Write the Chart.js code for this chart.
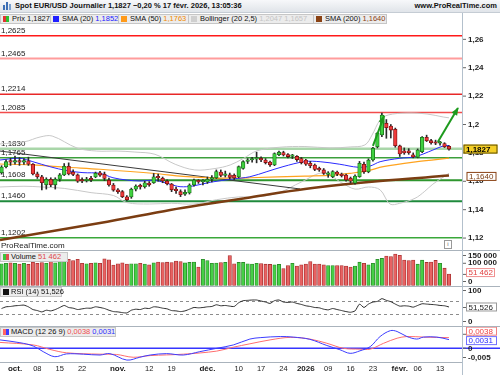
<!DOCTYPE html>
<html lang="fr">
<head>
<meta charset="utf-8">
<title>Spot EUR/USD Journalier</title>
<script src="https://cdn.jsdelivr.net/npm/chart.js@4.4.1/dist/chart.umd.min.js"></script>
<style>
  html, body { margin: 0; padding: 0; }
  body { position: relative; width: 500px; height: 375px; overflow: hidden; background: #fff;
         font-family: "Liberation Sans", Arial, sans-serif; color: #111; }
  canvas { position: absolute; left: 0; }
  #title { position: absolute; left: 0; top: 0; width: 500px; height: 13px; box-sizing: border-box;
           background: linear-gradient(#f7f8fa, #e0e4e9); border-bottom: 1px solid #c5ccd4;
           font-size: 7.5px; font-weight: bold; line-height: 12px; }
  #title .t { position: absolute; left: 15px; top: 0; }
  #title .site { position: absolute; right: 3px; top: 0; }
  #title .ico { position: absolute; bottom: 2px; width: 1.5px; background: #3d6fb5; }
  .lg { position: absolute; height: 10px; box-sizing: border-box; border: 1px solid #c6c6c6;
        background: #ececec; font-size: 7.5px; line-height: 8px; white-space: nowrap; padding-left: 11px; }
  .lg i { position: absolute; left: 2px; top: 1px; width: 6px; height: 6px; }
  .sep { position: absolute; left: 0; width: 500px; height: 1px; background: #aab3bc; }
  #axis { position: absolute; left: 462px; top: 13px; width: 1px; height: 362px; background: #b3c0cc; }
  #wm { position: absolute; left: 1px; top: 241px; font-size: 8px; color: #222; }
  #info { position: absolute; left: 444px; top: 240px; width: 6px; height: 7px; border: 1px solid #999;
          font-size: 6px; line-height: 7px; text-align: center; color: #666; background: #fff; }
</style>
</head>
<body>
<div id="title">
  <span class="ico" style="left:3px;height:5px"></span>
  <span class="ico" style="left:6px;height:8px"></span>
  <span class="ico" style="left:9px;height:6px;background:#7aa0d0"></span>
  <span class="t">Spot EUR/USD Journalier 1,1827 −0,20 % 17 févr. 2026, 13:05:36</span>
  <span class="site">www.ProRealTime.com</span>
</div>

<div class="lg" style="left:0;top:14px;width:51px"><i style="background:linear-gradient(90deg,#e23232 50%,#2fbf2f 50%)"></i>Prix <span id="vPrix"></span></div>
<div class="lg" style="left:50px;top:14px;width:69px"><i style="background:#1f1fff"></i>SMA (20) <span id="v20" style="color:#2020ff"></span></div>
<div class="lg" style="left:118px;top:14px;width:71px"><i style="background:#ff9a1a"></i>SMA (50) <span id="v50" style="color:#f08a00"></span></div>
<div class="lg" style="left:188px;top:14px;width:126px"><i style="background:#cfcfcf"></i>Bollinger (20 2,5) <span id="vBB" style="color:#c4c4c4"></span></div>
<div class="lg" style="left:313px;top:14px;width:74px"><i style="background:#8a4214"></i>SMA (200) <span id="v200" style="color:#8a4214"></span></div>

<canvas id="cPrice" width="500" height="225" style="top:25px"></canvas>
<canvas id="cVol" width="500" height="35" style="top:251px"></canvas>
<canvas id="cRsi" width="500" height="40" style="top:286px"></canvas>
<canvas id="cMacd" width="500" height="49" style="top:326px"></canvas>

<div class="sep" style="top:250px"></div>
<div class="sep" style="top:286px"></div>
<div class="sep" style="top:326px"></div>
<div class="sep" style="top:362px;width:463px"></div>
<div id="axis"></div>
<div id="wm">ProRealTime.com</div>
<div id="info">i</div>

<div class="lg" style="left:0;top:252px;width:68px;padding-left:10px"><i style="background:linear-gradient(90deg,#3ec43e 50%,#e05050 50%)"></i>Volume <span id="vVol" style="color:#e04848"></span></div>
<div class="lg" style="left:0;top:287px;width:62px;padding-left:10px"><i style="background:#111"></i>RSI (14) <span id="vRsi"></span></div>
<div class="lg" style="left:0;top:327px;width:116px;padding-left:10px"><i style="background:linear-gradient(90deg,#ff6464 50%,#3c3cff 50%)"></i>MACD (12 26 9) <span id="vSig" style="color:#f05050"></span> <span id="vMacd" style="color:#3030ff"></span></div>

<script>
// daily bars, Sep 26 2025 -> Feb 17 2026
const dates = [
  '2025-09-26','2025-09-29','2025-09-30',
  '2025-10-01','2025-10-02','2025-10-03','2025-10-06','2025-10-07','2025-10-08','2025-10-09','2025-10-10',
  '2025-10-13','2025-10-14','2025-10-15','2025-10-16','2025-10-17','2025-10-20','2025-10-21','2025-10-22',
  '2025-10-23','2025-10-24','2025-10-27','2025-10-28','2025-10-29','2025-10-30','2025-10-31',
  '2025-11-03','2025-11-04','2025-11-05','2025-11-06','2025-11-07','2025-11-10','2025-11-11','2025-11-12',
  '2025-11-13','2025-11-14','2025-11-17','2025-11-18','2025-11-19','2025-11-20','2025-11-21','2025-11-24',
  '2025-11-25','2025-11-26','2025-11-27','2025-11-28',
  '2025-12-01','2025-12-02','2025-12-03','2025-12-04','2025-12-05','2025-12-08','2025-12-09','2025-12-10',
  '2025-12-11','2025-12-12','2025-12-15','2025-12-16','2025-12-17','2025-12-18','2025-12-19','2025-12-22',
  '2025-12-23','2025-12-24','2025-12-26','2025-12-29','2025-12-30','2025-12-31',
  '2026-01-02','2026-01-05','2026-01-06','2026-01-07','2026-01-08','2026-01-09','2026-01-12','2026-01-13',
  '2026-01-14','2026-01-15','2026-01-16','2026-01-19','2026-01-20','2026-01-21','2026-01-22','2026-01-23',
  '2026-01-26','2026-01-27','2026-01-28','2026-01-29','2026-01-30',
  '2026-02-02','2026-02-03','2026-02-04','2026-02-05','2026-02-06','2026-02-09','2026-02-10','2026-02-11',
  '2026-02-12','2026-02-13','2026-02-16','2026-02-17'
];

const opens = [
  1.1660,1.1703,1.1738,1.1735,1.1742,1.1735,1.1745,1.1720,1.1652,1.1632,
  1.1575,1.1614,1.1575,1.1615,1.1645,1.1705,1.1665,1.1645,1.1612,1.1605,
  1.1612,1.1630,1.1660,1.1650,1.1608,1.1574,1.1540,1.1527,1.1491,1.1490,
  1.1544,1.1565,1.1562,1.1588,1.1590,1.1628,1.1621,1.1602,1.1580,1.1538,
  1.1527,1.1510,1.1518,1.1574,1.1605,1.1596,1.1595,1.1615,1.1625,1.1665,
  1.1642,1.1646,1.1642,1.1630,1.1690,1.1740,1.1750,1.1756,1.1762,1.1750,
  1.1735,1.1715,1.1788,1.1802,1.1788,1.1775,1.1775,1.1760,1.1749,1.1727,
  1.1715,1.1690,1.1680,1.1648,1.1632,1.1665,1.1650,1.1644,1.1622,1.1586,
  1.1632,1.1720,1.1668,1.1750,1.1844,1.1926,1.2008,1.1989,1.1966,1.1849,
  1.1815,1.1815,1.1787,1.1769,1.1808,1.1910,1.1886,1.1872,1.1868,1.1866,
  1.1846
];
const highs = [
  1.1710,1.1752,1.1762,1.1778,1.1768,1.1760,1.1770,1.1725,1.1665,1.1642,
  1.1625,1.1625,1.1625,1.1655,1.1725,1.1730,1.1680,1.1652,1.1625,1.1628,
  1.1635,1.1665,1.1670,1.1665,1.1622,1.1585,1.1548,1.1535,1.1500,1.1552,
  1.1575,1.1580,1.1600,1.1598,1.1655,1.1650,1.1630,1.1610,1.1585,1.1560,
  1.1540,1.1540,1.1582,1.1615,1.1612,1.1612,1.1630,1.1640,1.1680,1.1680,
  1.1672,1.1658,1.1652,1.1708,1.1745,1.1760,1.1768,1.1805,1.1772,1.1760,
  1.1742,1.1800,1.1812,1.1812,1.1795,1.1790,1.1782,1.1768,1.1755,1.1740,
  1.1722,1.1700,1.1690,1.1668,1.1675,1.1672,1.1658,1.1650,1.1630,1.1645,
  1.1740,1.1735,1.1758,1.1840,1.1945,1.2080,1.2035,1.2000,1.1975,1.1855,
  1.1835,1.1830,1.1800,1.1828,1.1915,1.1925,1.1895,1.1890,1.1882,1.1872,
  1.1852
];
const lows = [
  1.1650,1.1695,1.1712,1.1720,1.1712,1.1718,1.1712,1.1645,1.1620,1.1540,
  1.1545,1.1562,1.1545,1.1600,1.1640,1.1645,1.1640,1.1592,1.1590,1.1595,
  1.1598,1.1625,1.1635,1.1605,1.1565,1.1530,1.1515,1.1485,1.1463,1.1480,
  1.1532,1.1545,1.1552,1.1565,1.1585,1.1600,1.1590,1.1575,1.1527,1.1515,
  1.1492,1.1500,1.1510,1.1565,1.1585,1.1575,1.1585,1.1595,1.1620,1.1632,
  1.1630,1.1615,1.1612,1.1625,1.1685,1.1725,1.1735,1.1730,1.1738,1.1722,
  1.1705,1.1710,1.1780,1.1778,1.1765,1.1760,1.1740,1.1722,1.1712,1.1695,
  1.1675,1.1670,1.1648,1.1628,1.1625,1.1640,1.1630,1.1600,1.1588,1.1580,
  1.1628,1.1655,1.1660,1.1742,1.1835,1.1915,1.1903,1.1905,1.1840,1.1775,
  1.1790,1.1790,1.1765,1.1765,1.1802,1.1880,1.1862,1.1858,1.1855,1.1838,
  1.1820
];
const closes = [
  1.1700,1.1738,1.1735,1.1742,1.1735,1.1745,1.1720,1.1652,1.1632,1.1590,
  1.1614,1.1575,1.1615,1.1645,1.1705,1.1652,1.1648,1.1600,1.1602,1.1612,
  1.1610,1.1656,1.1644,1.1620,1.1574,1.1538,1.1527,1.1491,1.1470,1.1544,
  1.1567,1.1561,1.1590,1.1575,1.1632,1.1624,1.1602,1.1583,1.1540,1.1534,
  1.1505,1.1522,1.1574,1.1609,1.1596,1.1600,1.1615,1.1622,1.1668,1.1642,
  1.1646,1.1628,1.1624,1.1703,1.1738,1.1748,1.1756,1.1762,1.1750,1.1732,
  1.1716,1.1795,1.1805,1.1786,1.1774,1.1777,1.1753,1.1732,1.1720,1.1710,
  1.1684,1.1680,1.1656,1.1660,1.1668,1.1650,1.1640,1.1609,1.1600,1.1637,
  1.1727,1.1668,1.1750,1.1832,1.1938,1.2067,1.1977,1.1961,1.1851,1.1792,
  1.1800,1.1801,1.1772,1.1820,1.1910,1.1886,1.1872,1.1868,1.1870,1.1843,
  1.1827
];

const volumes = [
  98000,100000,102000,100000,97000,100000,95000,105000,100000,103000,
  100000,108000,102000,112000,122000,118000,112000,118000,100000,98000,
  100000,102000,100000,120000,116000,92000,98000,102000,97000,98000,
  98000,100000,97000,93000,102000,106000,103000,105000,103000,110000,
  108000,102000,104000,106000,83000,118000,112000,100000,101000,103000,
  104000,135000,98000,104000,104000,98000,97000,100000,99000,96000,
  95000,93000,95000,76000,90000,100000,88000,93000,97000,108000,
  97000,97000,93000,90000,90000,90000,90000,88000,83000,88000,
  105000,100000,93000,100000,118000,122000,133000,130000,142000,136000,
  115000,112000,115000,96000,114000,104000,106000,113000,100000,78000,
  51462
];

const rsi = [
  47,52,53,55,56,57,52,44,41,37,
  42,40,44,50,56,50,48,44,46,48,
  48,52,50,47,42,38,37,35,34,42,
  45,44,48,47,52,51,48,46,41,40,
  38,40,45,50,49,50,52,53,58,55,
  56,54,53,64,70,71,72,72,69,66,
  62,70,72,66,65,66,62,59,55,53,
  50,49,45,43,47,44,41,38,36,40,
  60,50,60,66,68,76,71,67,60,54,
  55,54,51,56,61,60,59,58,56,55,
  51.526
];

// indicator readings: [bar position, value]
const sma20 = [
  [-0.35,1.1750],[4.1,1.1762],[7,1.1738],[10.8,1.1703],[14.6,1.1675],[18.2,1.1661],[22,1.1656],
  [24.9,1.1625],[28,1.1609],[30.9,1.1602],[34.3,1.1606],[37.7,1.1579],[39.9,1.1562],[42.8,1.1567],
  [46.6,1.1593],[51.7,1.1616],[55.5,1.1632],[59.3,1.1668],[62.9,1.1703],[67.8,1.1739],[71.2,1.1738],
  [75.6,1.1720],[79.7,1.1699],[82.4,1.1708],[84.6,1.1738],[89,1.1762],[92.4,1.1773],[96.4,1.1820],
  [98.7,1.1849],[100,1.1852]
];
const sma50 = [
  [-0.35,1.1722],[7,1.1715],[14.6,1.1699],[22,1.1685],[34.3,1.1655],[40.6,1.1634],[48.2,1.1623],
  [55.5,1.1625],[67.8,1.1637],[74.1,1.1644],[77.9,1.1656],[81.7,1.1673],[85.3,1.1703],[92.9,1.1738],
  [100,1.1763]
];
const sma200 = [
  [-0.35,1.1187],[22,1.1306],[37.7,1.1398],[44.4,1.1433],[55.5,1.1486],[67.8,1.1546],[84.6,1.1602],
  [100,1.1640]
];
const bbUpper = [
  [-0.35,1.1863],[5.2,1.1879],[8.6,1.1912],[11.3,1.1919],[16.9,1.1834],[21.3,1.1813],[25.8,1.1813],
  [29.8,1.1806],[34.3,1.1790],[38.8,1.1720],[43.2,1.1680],[47.7,1.1690],[51.1,1.1715],[54,1.1760],
  [57.1,1.1815],[62.2,1.1840],[67.8,1.1845],[73.4,1.1835],[77.9,1.1842],[81.2,1.1856],[82.8,1.1926],
  [84.6,1.2032],[86.4,1.2067],[90.6,1.2081],[95.1,1.2074],[98.7,1.2053],[100,1.2047]
];
const bbLower = [
  [-0.35,1.1560],[5,1.1565],[9,1.1560],[14,1.1550],[20,1.1520],[25,1.1500],[28,1.1450],[33,1.1440],
  [38,1.1445],[43,1.1440],[48,1.1470],[53,1.1490],[57,1.1490],[62,1.1520],[67,1.1595],[72,1.1660],
  [76,1.1590],[79,1.1545],[82,1.1560],[84.6,1.1540],[86.8,1.1440],[89,1.1445],[92.4,1.1480],
  [94.6,1.1530],[96.4,1.1580],[99,1.1635],[100,1.1657]
];
const trendLine = [[-0.35,1.1813],[66.7,1.1546]];
const arrowRally = [[83,1.1849],[85.5,1.2060]];
const arrowNext = [[97.5,1.1877],[102,1.2116]];

const macdLine = [
  [-0.35,0.0030],[4.1,0.0020],[7.1,0.0008],[9.3,-0.0012],[11.9,-0.0030],[14.5,-0.0020],[18.3,-0.0021],
  [22,-0.0024],[24.2,-0.0019],[28,-0.0042],[30.9,-0.0032],[33.2,-0.0024],[36.9,-0.0019],[40.6,-0.0024],
  [44.3,-0.0012],[48.1,0],[51.8,0.0012],[55.5,0.0033],[57.8,0.0038],[62.3,0.0042],[65.2,0.0040],
  [68.9,0.0032],[72.7,0.0010],[75.6,-0.0005],[77.9,-0.0018],[80.1,-0.0009],[82.4,0.0006],[84.6,0.0042],
  [86.9,0.0063],[88.4,0.0060],[90.6,0.0042],[92.8,0.0033],[94.3,0.0040],[97.3,0.0040],[100,0.0031]
];
const macdSignal = [
  [-0.35,0.0021],[7.1,0.0012],[10.8,-0.0004],[14.5,-0.0016],[22,-0.0021],[25.7,-0.0022],[29.4,-0.0032],
  [33.2,-0.0026],[40.6,-0.0021],[48.1,-0.0010],[51.8,0.0004],[55.5,0.0016],[60,0.0030],[64.5,0.0039],
  [68.9,0.0033],[72.7,0.0018],[76.4,0.0000],[80.1,-0.0003],[82.4,-0.0003],[85.4,0.0018],[88.4,0.0036],
  [90.6,0.0042],[94.3,0.0040],[100,0.0038]
];

const priceLevels = [1.2625, 1.2465, 1.2214, 1.2085, 1.1830, 1.1765, 1.1608, 1.1460, 1.1202];
const levelColors = ['#ff1a1a', '#ff9c9c', '#e82828', '#f24c4c', '#a9d6a9', '#3c9f3c', '#2e962e', '#1f8a3c', '#3aa83a'];
const levelWidths = [1.5, 2, 1.5, 1.5, 2.5, 1.5, 2, 2, 1.5];

const priceTicks = [1.12, 1.14, 1.16, 1.18, 1.2, 1.22, 1.24, 1.26];
const volTicks = [0, 50000, 100000, 150000];
const rsiTicks = [0, 50, 100];
const rsiBands = [70, 30];
const macdTicks = [-0.005, 0, 0.005];
const xTickDates = ['2025-10-01','2025-10-08','2025-10-15','2025-10-22','2025-11-03','2025-11-12','2025-11-19',
  '2025-12-01','2025-12-10','2025-12-17','2025-12-24','2026-01-02','2026-01-09','2026-01-16','2026-01-23',
  '2026-02-02','2026-02-06','2026-02-13'];
const xTickLabels = ['oct.','08','15','22','nov.','12','19','déc.','10','17','24','2026','09','16','23','févr.','06','13'];

const X_MIN = -0.35, X_MAX = 103.13;
const FONT = '"Liberation Sans", Arial, sans-serif';
const last = a => a[a.length - 1];
const comma = (v, d) => v.toFixed(d).replace('.', ',');
const spaced = v => String(Math.round(v)).replace(/\B(?=(\d{3})+(?!\d))/g, ' ');
const isUp = k => closes[k] >= opens[k];
const toPts = arr => arr.map(([x, y]) => ({ x, y }));

// legend values
document.getElementById('vPrix').textContent = comma(last(closes), 4);
document.getElementById('v20').textContent = comma(last(sma20)[1], 4);
document.getElementById('v50').textContent = comma(last(sma50)[1], 4);
document.getElementById('vBB').textContent = comma(last(bbUpper)[1], 4) + ' ' + comma(last(bbLower)[1], 4);
document.getElementById('v200').textContent = comma(last(sma200)[1], 4);
document.getElementById('vVol').textContent = spaced(last(volumes));
document.getElementById('vRsi').textContent = comma(last(rsi), 3);
document.getElementById('vSig').textContent = comma(last(macdSignal)[1], 4);
document.getElementById('vMacd').textContent = comma(last(macdLine)[1], 4);

function lineSet(points, color, width, order, extra) {
  return Object.assign({
    type: 'line', data: toPts(points), borderColor: color, borderWidth: width,
    pointRadius: 0, fill: false, tension: 0.35, order: order
  }, extra || {});
}

function baseOptions(yMin, yMax, bottomPad) {
  return {
    responsive: false, animation: false, events: [],
    layout: { padding: { left: 0, right: 0, top: 0, bottom: bottomPad || 0 } },
    plugins: { legend: { display: false }, tooltip: { enabled: false } },
    scales: {
      x: { type: 'linear', min: X_MIN, max: X_MAX, display: false, offset: false },
      y: {
        position: 'right', min: yMin, max: yMax,
        grid: { display: false }, border: { display: false }, ticks: { display: false },
        afterFit: function(scale) { scale.width = 37; }
      }
    }
  };
}

// right-hand axis labels plus value boxes
function axisLabels(ticks, fmt, boxes) {
  return {
    id: 'axisLabels',
    afterDraw(chart) {
      const { ctx, chartArea: a, scales: { y } } = chart;
      ctx.save();
      ctx.textBaseline = 'middle';
      ctx.font = 'bold 8px ' + FONT;
      ticks.forEach(v => {
        let py = y.getPixelForValue(v);
        py = Math.min(Math.max(py, a.top + 4.5), a.bottom - 4.5);
        ctx.strokeStyle = '#666'; ctx.lineWidth = 1;
        ctx.beginPath(); ctx.moveTo(a.right, py); ctx.lineTo(a.right + 3, py); ctx.stroke();
        ctx.fillStyle = '#1e1e1e';
        ctx.fillText(fmt(v), a.right + 5, py);
      });
      boxes.forEach(b => {
        const py = y.getPixelForValue(b.value) + (b.dy || 0);
        ctx.fillStyle = b.fill; ctx.strokeStyle = b.stroke; ctx.lineWidth = 1;
        ctx.fillRect(a.right + b.x, py - 4.5, b.w, 9);
        ctx.strokeRect(a.right + b.x + 0.5, py - 4, b.w - 1, 8);
        ctx.fillStyle = b.color;
        ctx.font = (b.bold ? 'bold ' : '') + '8px ' + FONT;
        ctx.fillText(b.text, a.right + b.x + 2.5, py + 0.5);
      });
      ctx.restore();
    }
  };
}

const levelsPlugin = {
  id: 'levels',
  beforeDatasetsDraw(chart) {
    const { ctx, chartArea: a, scales: { y } } = chart;
    ctx.save();
    ctx.font = '8px ' + FONT;
    ctx.textBaseline = 'bottom';
    priceLevels.forEach((lv, j) => {
      const py = y.getPixelForValue(lv);
      ctx.strokeStyle = levelColors[j]; ctx.lineWidth = levelWidths[j];
      ctx.beginPath(); ctx.moveTo(a.left, py); ctx.lineTo(a.right, py); ctx.stroke();
      ctx.fillStyle = '#1a1a1a';
      ctx.fillText(comma(lv, 4), 1, py - 1);
    });
    ctx.restore();
  }
};

const arrowPlugin = {
  id: 'arrows',
  afterDatasetsDraw(chart) {
    const ctx = chart.ctx;
    chart.data.datasets.forEach((ds, i) => {
      if (!ds.arrow) return;
      const pts = chart.getDatasetMeta(i).data;
      const p0 = pts[0], p1 = pts[pts.length - 1];
      const ang = Math.atan2(p1.y - p0.y, p1.x - p0.x);
      const L = 7, W = 3.2;
      ctx.save();
      ctx.fillStyle = ds.borderColor;
      ctx.beginPath();
      ctx.moveTo(p1.x + Math.cos(ang), p1.y + Math.sin(ang));
      ctx.lineTo(p1.x - L * Math.cos(ang) + W * Math.sin(ang), p1.y - L * Math.sin(ang) - W * Math.cos(ang));
      ctx.lineTo(p1.x - L * Math.cos(ang) - W * Math.sin(ang), p1.y - L * Math.sin(ang) + W * Math.cos(ang));
      ctx.closePath(); ctx.fill();
      ctx.restore();
    });
  }
};

const idx = dates.map((d, k) => k);

// ---- price panel ----
new Chart(document.getElementById('cPrice'), {
  type: 'bar',
  data: {
    datasets: [
      lineSet(bbUpper, '#c8c8c8', 1, 12),
      lineSet(bbLower, '#c8c8c8', 1, 12),
      lineSet(trendLine, '#3a3a3a', 1, 11, { tension: 0 }),
      lineSet(sma200, '#7b3d12', 2.5, 10),
      lineSet(sma50, '#ffa31f', 1.2, 9),
      lineSet(sma20, '#2a2aff', 1, 8),
      {
        type: 'bar', order: 5, grouped: false, barThickness: 1,
        data: idx.map(k => ({ x: k, y: [lows[k], highs[k]] })),
        backgroundColor: '#2a2a2a'
      },
      {
        type: 'bar', order: 4, grouped: false, barThickness: 3.6, minBarLength: 1.5,
        data: idx.map(k => ({ x: k, y: [opens[k], closes[k]] })),
        backgroundColor: idx.map(k => isUp(k) ? '#3fd03f' : '#ee3a3a'),
        borderColor: idx.map(k => isUp(k) ? '#1b6e1b' : '#7a1010'),
        borderWidth: 0.8, borderSkipped: false
      },
      lineSet(arrowRally, '#1d9a1d', 2, 1, { tension: 0, arrow: true }),
      lineSet(arrowNext, '#1d9a1d', 2, 1, { tension: 0, arrow: true })
    ]
  },
  options: baseOptions(1.1116, 1.2701),
  plugins: [levelsPlugin, arrowPlugin, axisLabels(priceTicks, v => comma(v, 2).replace(/0$/, ''), [
    { value: last(closes), text: comma(last(closes), 4), fill: '#f5cf26', stroke: '#5a4a00', color: '#000', bold: true, x: 0.5, w: 34 },
    { value: last(sma200)[1], text: comma(last(sma200)[1], 4), fill: '#fff', stroke: '#8a4214', color: '#7b3d12', x: 3.5, w: 30, dy: 0.8 }
  ])]
});

// ---- volume panel ----
new Chart(document.getElementById('cVol'), {
  type: 'bar',
  data: {
    datasets: [{
      grouped: false, barThickness: 3.4,
      data: idx.map(k => ({ x: k, y: volumes[k] })),
      backgroundColor: idx.map(k => isUp(k) ? '#46cf46' : '#e86262'),
      borderColor: idx.map(k => isUp(k) ? '#2a8a2a' : '#a83030'),
      borderWidth: 0.8, borderSkipped: false
    }]
  },
  options: baseOptions(-2300, 155400),
  plugins: [axisLabels(volTicks, spaced, [
    { value: last(volumes), text: spaced(last(volumes)), fill: '#fff', stroke: '#f09090', color: '#e04040', x: 3, w: 29, dy: -1.5 }
  ])]
});

// ---- RSI panel ----
new Chart(document.getElementById('cRsi'), {
  type: 'line',
  data: {
    datasets: [{
      data: idx.map(k => ({ x: k, y: rsi[k] })),
      borderColor: '#2a2a2a', borderWidth: 1, pointRadius: 0, tension: 0.2
    }]
  },
  options: baseOptions(-4.4, 113.2),
  plugins: [{
    id: 'rsiBands',
    beforeDatasetsDraw(chart) {
      const { ctx, chartArea: a, scales: { y } } = chart;
      ctx.save();
      ctx.strokeStyle = '#8c8c8c'; ctx.lineWidth = 1; ctx.setLineDash([3, 3]);
      rsiBands.forEach(v => {
        const py = Math.round(y.getPixelForValue(v)) + 0.5;
        ctx.beginPath(); ctx.moveTo(a.left, py); ctx.lineTo(a.right, py); ctx.stroke();
      });
      ctx.restore();
    }
  }, axisLabels(rsiTicks, v => String(v), [
    { value: last(rsi), text: comma(last(rsi), 3), fill: '#fff', stroke: '#9a9a9a', color: '#222', x: 3, w: 31 }
  ])]
});

// ---- MACD panel + date axis ----
new Chart(document.getElementById('cMacd'), {
  type: 'line',
  data: {
    datasets: [
      lineSet(macdSignal, '#ff6e6e', 1, 2),
      lineSet(macdLine, '#3c3cff', 1, 1)
    ]
  },
  options: baseOptions(-0.00489, 0.00796, 13),
  plugins: [{
    id: 'zeroLine',
    beforeDatasetsDraw(chart) {
      const { ctx, chartArea: a, scales: { y } } = chart;
      const py = y.getPixelForValue(0);
      ctx.save();
      ctx.strokeStyle = '#3535ff'; ctx.lineWidth = 1.5;
      ctx.beginPath(); ctx.moveTo(a.left, py); ctx.lineTo(a.right + 37, py); ctx.stroke();
      ctx.restore();
    }
  }, {
    id: 'dateAxis',
    afterDraw(chart) {
      const { ctx, chartArea: a, scales: { x } } = chart;
      ctx.save();
      ctx.textAlign = 'center'; ctx.textBaseline = 'middle'; ctx.fillStyle = '#1a1a1a';
      xTickDates.forEach((d, j) => {
        const px = x.getPixelForValue(dates.indexOf(d));
        const lbl = xTickLabels[j];
        const major = /[a-z]/.test(lbl) || lbl.length === 4;
        ctx.font = (major ? 'bold 8px ' : '7.5px ') + FONT;
        ctx.fillText(lbl, px, a.bottom + 6.5);
      });
      ctx.restore();
    }
  }, axisLabels(macdTicks, v => v === 0 ? '0' : comma(v, 3), [
    { value: last(macdSignal)[1], text: comma(last(macdSignal)[1], 4), fill: '#fff', stroke: '#f08080', color: '#f04040', x: 3, w: 31, dy: -6.5 },
    { value: last(macdLine)[1], text: comma(last(macdLine)[1], 4), fill: '#fff', stroke: '#7070ff', color: '#2828ff', x: 3, w: 31, dy: 1 }
  ])]
});
</script>
</body>
</html>
